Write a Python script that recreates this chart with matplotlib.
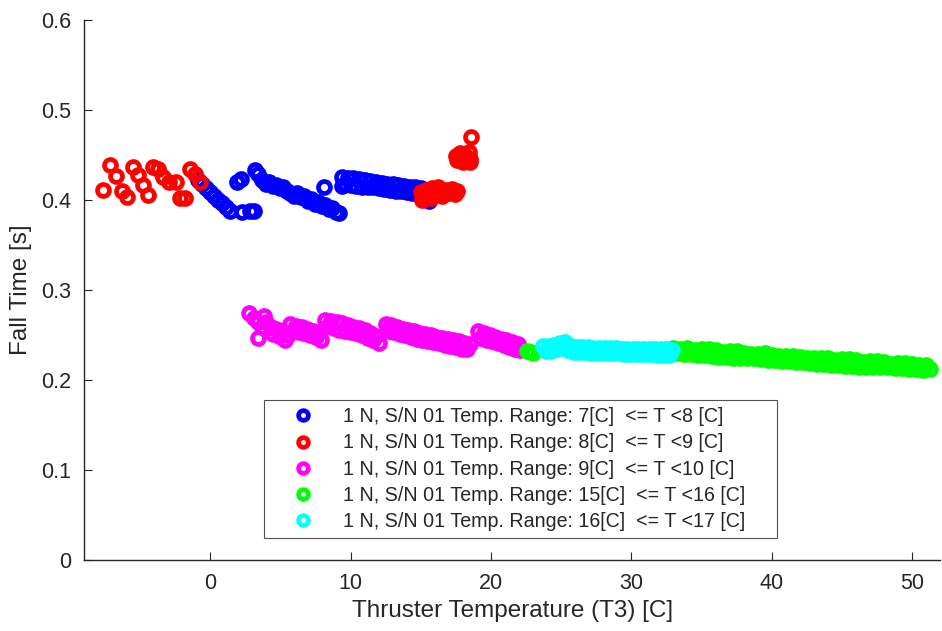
import matplotlib
matplotlib.use("Agg")
import matplotlib.pyplot as plt

plt.rcParams['font.family'] = ['Liberation Sans', 'DejaVu Sans']

# ---- data ----
blue_x = [-0.86, -0.57, -0.29, 0.00, 0.29, 0.57, 0.86, 1.14, 1.43,
          2.29, 2.86, 3.14, 1.93, 2.21, 3.21, 3.43,
          3.70, 3.95, 4.20, 4.45, 4.70, 4.95, 5.20, 5.45, 5.70, 5.95, 6.20, 6.45,
          6.70, 6.95, 7.20, 7.45, 7.70, 7.95, 8.20, 8.45, 8.70, 8.95, 9.15,
          8.07,
          9.36, 9.40, 9.60, 9.80, 10.0, 10.2, 10.4, 10.6, 10.8, 11.0, 11.2, 11.4,
          11.6, 11.8, 12.0, 12.2, 12.4, 12.6, 12.8, 13.0, 13.2, 13.4, 13.6, 13.8,
          14.0, 14.2, 14.4, 14.6, 14.8, 15.0, 15.2, 15.4, 15.6]
blue_y = [0.422, 0.418, 0.413, 0.409, 0.404, 0.400, 0.397, 0.392, 0.388,
          0.387, 0.388, 0.388, 0.420, 0.423, 0.433, 0.429,
          0.422, 0.418, 0.420, 0.416, 0.417, 0.413, 0.414, 0.410, 0.408, 0.404, 0.408, 0.403,
          0.404, 0.399, 0.401, 0.396, 0.398, 0.393, 0.395, 0.390, 0.391, 0.387, 0.386,
          0.414,
          0.416, 0.426, 0.418, 0.425, 0.417, 0.424, 0.416, 0.423, 0.415, 0.422, 0.415, 0.421,
          0.414, 0.420, 0.413, 0.419, 0.412, 0.418, 0.411, 0.418, 0.410, 0.417, 0.410, 0.416,
          0.409, 0.415, 0.408, 0.414, 0.407, 0.413, 0.404, 0.408, 0.399]

red_x = [-7.64, -7.14, -6.71, -6.29, -5.93, -5.50, -5.14, -4.79, -4.43, -4.07,
         -3.71, -3.36, -2.93, -2.43, -2.14, -1.79, -1.43, -1.07, -0.71,
         15.0, 15.2, 15.4, 15.6, 15.8, 16.0, 16.2, 16.4, 16.6, 16.8, 17.0, 17.2,
         17.4, 17.6, 15.1, 15.7, 16.5,
         17.5, 17.6, 17.8, 17.9, 18.0, 18.1, 18.2, 18.3, 18.4, 18.5, 18.5,
         18.57]
red_y = [0.411, 0.439, 0.427, 0.410, 0.403, 0.437, 0.428, 0.417, 0.406, 0.437,
         0.434, 0.426, 0.420, 0.420, 0.402, 0.402, 0.434, 0.429, 0.420,
         0.409, 0.404, 0.411, 0.407, 0.413, 0.409, 0.415, 0.410, 0.407, 0.411, 0.408, 0.412,
         0.407, 0.410, 0.400, 0.402, 0.404,
         0.449, 0.444, 0.452, 0.446, 0.442, 0.451, 0.447, 0.443, 0.453, 0.446, 0.442,
         0.470]

mag_x = [2.79, 3.14, 3.43, 3.79, 4.00, 3.43, 3.71,
         4.3, 4.5, 4.7, 4.9, 5.1, 5.3, 5.5,
         5.7, 5.9, 6.1, 6.3, 6.5, 6.7, 6.9, 7.1, 7.3, 7.5, 7.7, 7.9,
         8.2, 8.4, 8.6, 8.8, 9.0, 9.2, 9.4, 9.6, 9.8, 10.0, 10.2, 10.4, 10.6,
         10.8, 11.0, 11.2, 11.4, 11.6, 11.8, 12.0,
         12.5, 12.7, 12.9, 13.1, 13.3, 13.5, 13.7, 13.9, 14.1, 14.3, 14.5, 14.7,
         14.9, 15.1, 15.3, 15.5, 15.7, 15.9, 16.1, 16.3, 16.5, 16.7, 16.9, 17.1,
         17.3, 17.5, 17.7, 17.9, 18.1, 18.3, 18.5,
         19.1, 19.3, 19.5, 19.7, 19.9, 20.1, 20.3, 20.5, 20.7, 20.9, 21.1, 21.3,
         21.5, 21.7, 21.9, 22.1]
mag_y = [0.274, 0.269, 0.264, 0.271, 0.264, 0.247, 0.259,
         0.259, 0.251, 0.257, 0.249, 0.254, 0.245, 0.250,
         0.262, 0.255, 0.260, 0.253, 0.259, 0.252, 0.257, 0.250, 0.255, 0.248, 0.253, 0.245,
         0.267, 0.260, 0.266, 0.258, 0.264, 0.256, 0.263, 0.255, 0.261, 0.253, 0.259, 0.252, 0.258,
         0.250, 0.256, 0.247, 0.252, 0.244, 0.249, 0.241,
         0.262, 0.255, 0.261, 0.253, 0.259, 0.251, 0.257, 0.250, 0.256, 0.248, 0.254, 0.246,
         0.252, 0.245, 0.251, 0.243, 0.250, 0.242, 0.248, 0.241, 0.247, 0.239, 0.246, 0.238,
         0.244, 0.237, 0.243, 0.235, 0.241, 0.234, 0.240,
         0.254, 0.247, 0.252, 0.245, 0.250, 0.243, 0.248, 0.241, 0.246, 0.239, 0.244, 0.237,
         0.242, 0.235, 0.240, 0.233]

green_x = [22.55, 22.85, 23.0,
           33.00, 33.25, 33.50, 33.75, 34.00, 34.25, 34.50, 34.75, 35.00, 35.25,
           35.50, 35.75, 36.00, 36.25, 36.50, 36.75, 37.00, 37.25, 37.50, 37.75,
           38.00, 38.25, 38.50, 38.75, 39.00, 39.25, 39.50, 39.75, 40.00, 40.25,
           40.50, 40.75, 41.00, 41.25, 41.50, 41.75, 42.00, 42.25, 42.50, 42.75,
           43.00, 43.25, 43.50, 43.75, 44.00, 44.25, 44.50, 44.75, 45.00, 45.25,
           45.50, 45.75, 46.00, 46.25, 46.50, 46.75, 47.00, 47.25, 47.50, 47.75,
           48.00, 48.25, 48.50, 48.75, 49.00, 49.25, 49.50, 49.75, 50.00, 50.25,
           50.50, 50.75, 51.00, 51.25]
green_y = [0.232, 0.231, 0.230,
           0.236, 0.230, 0.235, 0.229, 0.236, 0.229, 0.233, 0.228, 0.234, 0.228,
           0.234, 0.227, 0.233, 0.226, 0.231, 0.226, 0.232, 0.225, 0.232, 0.225,
           0.230, 0.224, 0.229, 0.224, 0.229, 0.223, 0.230, 0.222, 0.228, 0.222,
           0.227, 0.221, 0.227, 0.221, 0.227, 0.220, 0.226, 0.220, 0.224, 0.219,
           0.225, 0.218, 0.225, 0.218, 0.224, 0.217, 0.222, 0.217, 0.223, 0.216,
           0.223, 0.216, 0.222, 0.215, 0.220, 0.215, 0.221, 0.215, 0.221, 0.214,
           0.220, 0.214, 0.218, 0.213, 0.219, 0.213, 0.219, 0.212, 0.218, 0.212,
           0.217, 0.211, 0.217, 0.212]

cyan_x = [23.7, 23.9, 24.1, 24.3, 24.5, 24.7, 24.9, 25.1, 25.3, 25.5, 25.7, 25.9,
          26.1, 26.3, 26.5, 26.7, 26.9, 27.1, 27.3, 27.5, 27.7, 27.9, 28.1, 28.3,
          28.5, 28.7, 28.9, 29.1, 29.3, 29.5, 29.7, 29.9, 30.1, 30.3, 30.5, 30.7,
          30.9, 31.1, 31.3, 31.5, 31.7, 31.9, 32.1, 32.3, 32.5, 32.7, 32.9]
cyan_y = [0.238, 0.232, 0.238, 0.232, 0.239, 0.234, 0.241, 0.237, 0.242, 0.233,
          0.238, 0.231, 0.237, 0.231, 0.237, 0.231, 0.237, 0.230, 0.236, 0.230,
          0.236, 0.230, 0.236, 0.230, 0.236, 0.230, 0.236, 0.230, 0.235, 0.229,
          0.235, 0.229, 0.235, 0.229, 0.235, 0.229, 0.235, 0.229, 0.234, 0.229,
          0.234, 0.228, 0.234, 0.228, 0.234, 0.228, 0.233]

labels = ["1 N, S/N 01 Temp. Range: 7[C]  <= T <8 [C]",
          "1 N, S/N 01 Temp. Range: 8[C]  <= T <9 [C]",
          "1 N, S/N 01 Temp. Range: 9[C]  <= T <10 [C]",
          "1 N, S/N 01 Temp. Range: 15[C]  <= T <16 [C]",
          "1 N, S/N 01 Temp. Range: 16[C]  <= T <17 [C]"]
colors = ["#0000ff", "#ff0000", "#ff00ff", "#00ff00", "#00ffff"]

xticks = [0, 10, 20, 30, 40, 50]
yticks = [0, 0.1, 0.2, 0.3, 0.4, 0.5, 0.6]
yticklabels = ["0", "0.1", "0.2", "0.3", "0.4", "0.5", "0.6"]

# ---- figure ----
fig = plt.figure(figsize=(9.42, 6.31), dpi=100)
ax = fig.add_axes([0.0892, 0.1125, 0.9088, 0.8558])

series = [(blue_x, blue_y), (red_x, red_y), (mag_x, mag_y),
          (green_x, green_y), (cyan_x, cyan_y)]
for (xs, ys), c, lab in zip(series, colors, labels):
    ax.plot(xs, ys, linestyle='none', marker='o', markersize=8.6,
            markerfacecolor='none', markeredgecolor=c, markeredgewidth=3.4,
            label=lab)

ax.set_xlim(-9, 52)
ax.set_ylim(0, 0.6)
ax.set_xticks(xticks)
ax.set_yticks(yticks)
ax.set_yticklabels(yticklabels)

dark = "#262626"
for s in ['top', 'right']:
    ax.spines[s].set_visible(False)
for s in ['left', 'bottom']:
    ax.spines[s].set_color(dark)
    ax.spines[s].set_linewidth(1.0)
ax.tick_params(direction='in', length=6, width=0.8, colors=dark,
               labelsize=15.5, pad=9)

ax.set_xlabel("Thruster Temperature (T3) [C]", fontsize=17.5, color=dark, labelpad=5)
ax.set_ylabel("Fall Time [s]", fontsize=17.5, color=dark, labelpad=7)

leg = ax.legend(loc='lower left', bbox_to_anchor=(0.2103, 0.0407, 0.5993, 0.261),
                mode='expand', fontsize=14.1, frameon=True, fancybox=False,
                borderpad=0.35, labelspacing=0.37, handlelength=3.3,
                handletextpad=0.4, borderaxespad=0)
leg.get_frame().set_edgecolor(dark)
leg.get_frame().set_linewidth(0.8)
for t in leg.get_texts():
    t.set_color(dark)
for h in leg.legend_handles:
    h.set_markersize(7.0)

fig.savefig("out.png", dpi=100)
